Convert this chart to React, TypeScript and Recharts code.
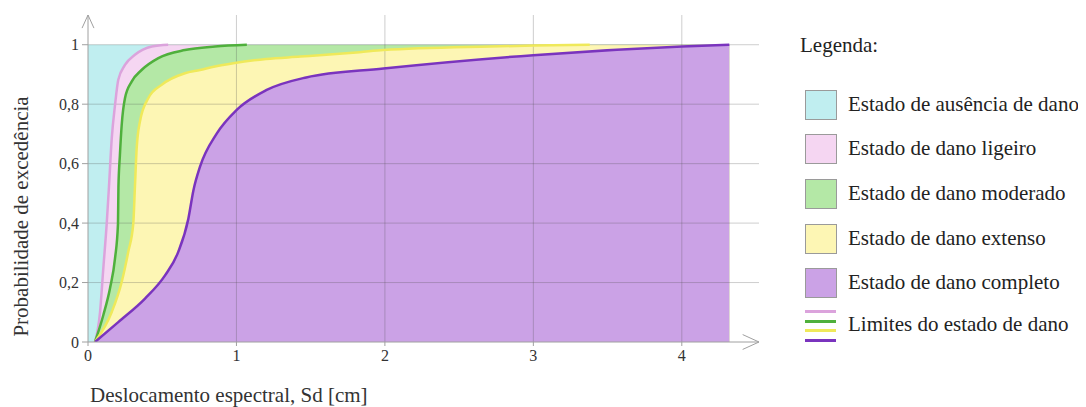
import React from "react";
import {
  ComposedChart,
  Area,
  Line,
  XAxis,
  YAxis,
  ReferenceLine,
  Label,
} from "recharts";

// ---- data (Sd [cm], probability of exceedance) ----
const ligeiroX = [0.047, 0.081, 0.103, 0.126, 0.141, 0.16, 0.182, 0.204, 0.249, 0.316, 0.43, 0.54];
const ligeiroY = [0, 0.1, 0.247, 0.398, 0.52, 0.685, 0.797, 0.882, 0.932, 0.966, 0.994, 1.0];

const moderadoX = [0.047, 0.103, 0.148, 0.182, 0.202, 0.205, 0.215, 0.227, 0.249, 0.294, 0.361, 0.474, 0.653, 0.855, 1.07];
const moderadoY = [0, 0.09, 0.18, 0.281, 0.398, 0.52, 0.629, 0.73, 0.82, 0.876, 0.915, 0.955, 0.982, 0.994, 1.0];

const extensoX = [0.047, 0.16, 0.227, 0.271, 0.305, 0.316, 0.328, 0.35, 0.406, 0.496, 0.653, 0.754, 0.855, 0.979, 1.2, 1.43, 1.83, 1.99, 2.71, 3.0, 3.38];
const extensoY = [0, 0.101, 0.202, 0.303, 0.398, 0.52, 0.652, 0.742, 0.82, 0.865, 0.904, 0.915, 0.927, 0.938, 0.952, 0.96, 0.975, 0.982, 0.994, 0.997, 1.0];

const completoX = [0.047, 0.204, 0.384, 0.519, 0.608, 0.676, 0.71, 0.754, 0.867, 1.0, 1.2, 1.47, 1.99, 3.0, 4.0, 4.32];
const completoY = [0, 0.067, 0.146, 0.224, 0.303, 0.415, 0.51, 0.589, 0.701, 0.78, 0.847, 0.89, 0.92, 0.965, 0.994, 1.0];

const xEnd = 4.32;
const xTicks = [0, 1, 2, 3, 4];
const yTicks = [0, 0.2, 0.4, 0.6, 0.8, 1];

const legendItems = [
  { label: "Estado de ausência de dano", color: "#c0eef0" },
  { label: "Estado de dano ligeiro", color: "#f5d6f2" },
  { label: "Estado de dano moderado", color: "#b4e8a6" },
  { label: "Estado de dano extenso", color: "#fdf6b4" },
  { label: "Estado de dano completo", color: "#cba2e6" },
];
const limitLabel = "Limites do estado de dano";

const COLORS = {
  pinkLine: "#dba3dc",
  greenLine: "#4fb03c",
  yellowLine: "#efe95a",
  purpleLine: "#7a34be",
};

const curve = (xs: number[], ys: number[]) => xs.map((x, i) => ({ x, y: ys[i] }));
const fill = (xs: number[], ys: number[]) => [...curve(xs, ys), { x: xEnd, y: 1 }];

const cyanFill = [
  { x: 0, y: 1 },
  { x: xEnd, y: 1 },
];

const FONT = '"Liberation Serif", "Times New Roman", serif';
const fmt = (v: number) => String(v).replace(".", ",");

export default function App() {
  return (
    <div style={{ position: "relative", width: 1078, height: 399, fontFamily: FONT }}>
      <ComposedChart
        width={1078}
        height={399}
        margin={{ top: 7, right: 327, bottom: 35, left: 8 }}
      >
        <XAxis
          type="number"
          dataKey="x"
          domain={[0, 4.52]}
          ticks={xTicks}
          allowDataOverflow
          height={30}
          tickSize={4}
          tickMargin={4}
          stroke="#a0a0a0"
          tick={{ fill: "#333", fontSize: 16, fontFamily: FONT }}
          tickFormatter={fmt}
        >
          <Label
            content={({ viewBox }: any) => (
              <text
                x={viewBox.x + 2}
                y={viewBox.y + 53}
                fill="#333"
                fontSize={21}
                fontFamily={FONT}
                dominantBaseline="central"
              >
                Deslocamento espectral, Sd [cm]
              </text>
            )}
          />
        </XAxis>
        <YAxis
          type="number"
          domain={[0, 1.1]}
          ticks={yTicks}
          allowDataOverflow
          width={72}
          tickSize={6}
          tickMargin={3}
          stroke="#a0a0a0"
          tick={{ fill: "#333", fontSize: 16, fontFamily: FONT }}
          tickFormatter={fmt}
        >
          <Label
            content={({ viewBox }: any) => {
              const cx = viewBox.x + 5;
              const cy = viewBox.y + viewBox.height / 2 + 38;
              return (
                <text
                  x={cx}
                  y={cy}
                  fill="#333"
                  fontSize={21}
                  fontFamily={FONT}
                  textAnchor="middle"
                  dominantBaseline="central"
                  transform={`rotate(-90 ${cx} ${cy})`}
                >
                  Probabilidade de excedência
                </text>
              );
            }}
          />
        </YAxis>

        <Area data={cyanFill} dataKey="y" type="linear" fill="#c0eef0" fillOpacity={1} stroke="none" isAnimationActive={false} />
        <Area data={fill(ligeiroX, ligeiroY)} dataKey="y" type="monotone" fill="#f5d6f2" fillOpacity={1} stroke="none" isAnimationActive={false} />
        <Area data={fill(moderadoX, moderadoY)} dataKey="y" type="monotone" fill="#b4e8a6" fillOpacity={1} stroke="none" isAnimationActive={false} />
        <Area data={fill(extensoX, extensoY)} dataKey="y" type="monotone" fill="#fdf6b4" fillOpacity={1} stroke="none" isAnimationActive={false} />
        <Area data={curve(completoX, completoY)} dataKey="y" type="monotone" fill="#cba2e6" fillOpacity={1} stroke="none" isAnimationActive={false} />

        {yTicks.slice(1).map((v) => (
          <ReferenceLine key={"h" + v} y={v} stroke="rgba(80,80,80,0.28)" strokeWidth={1} />
        ))}
        {xTicks.slice(1).map((v) => (
          <ReferenceLine key={"v" + v} x={v} stroke="rgba(80,80,80,0.28)" strokeWidth={1} />
        ))}

        <Line data={curve(ligeiroX, ligeiroY)} dataKey="y" type="monotone" stroke={COLORS.pinkLine} strokeWidth={2.5} dot={false} isAnimationActive={false} />
        <Line data={curve(moderadoX, moderadoY)} dataKey="y" type="monotone" stroke={COLORS.greenLine} strokeWidth={2.5} dot={false} isAnimationActive={false} />
        <Line data={curve(extensoX, extensoY)} dataKey="y" type="monotone" stroke={COLORS.yellowLine} strokeWidth={2.5} dot={false} isAnimationActive={false} />
        <Line data={curve(completoX, completoY)} dataKey="y" type="monotone" stroke={COLORS.purpleLine} strokeWidth={2.5} dot={false} isAnimationActive={false} />

        {/* axis arrows */}
        <ReferenceLine segment={[{ x: 0, y: 1.1 }, { x: -0.04, y: 1.056 }]} stroke="#a0a0a0" ifOverflow="visible" />
        <ReferenceLine segment={[{ x: 0, y: 1.1 }, { x: 0.04, y: 1.056 }]} stroke="#a0a0a0" ifOverflow="visible" />
        <ReferenceLine segment={[{ x: 4.52, y: 0 }, { x: 4.41, y: 0.025 }]} stroke="#a0a0a0" ifOverflow="visible" />
        <ReferenceLine segment={[{ x: 4.52, y: 0 }, { x: 4.41, y: -0.025 }]} stroke="#a0a0a0" ifOverflow="visible" />
      </ComposedChart>

      <div style={{ position: "absolute", left: 0, top: 0, width: 1078, height: 399, pointerEvents: "none", color: "#222" }}>
        <div style={{ position: "absolute", left: 792, top: 37, transform: "translateY(-50%)", fontSize: 21, whiteSpace: "nowrap" }}>
          Legenda:
        </div>
        {legendItems.map((it, i) => {
          const cy = [96, 140, 185, 230, 274][i];
          return (
            <React.Fragment key={it.label}>
              <div
                style={{
                  position: "absolute",
                  left: 797,
                  top: cy - 14.5,
                  width: 30,
                  height: 28,
                  background: it.color,
                  border: "1px solid #9a9a9a",
                }}
              />
              <div style={{ position: "absolute", left: 840, top: cy, transform: "translateY(-50%)", fontSize: 21, whiteSpace: "nowrap" }}>
                {it.label}
              </div>
            </React.Fragment>
          );
        })}
        {[COLORS.pinkLine, COLORS.greenLine, COLORS.yellowLine, COLORS.purpleLine].map((c, i) => (
          <div
            key={c}
            style={{ position: "absolute", left: 797, top: [303, 313, 322, 332][i] - 1.5, width: 31, height: 3, background: c }}
          />
        ))}
        <div style={{ position: "absolute", left: 840, top: 316, transform: "translateY(-50%)", fontSize: 21, whiteSpace: "nowrap" }}>
          {limitLabel}
        </div>
      </div>
    </div>
  );
}
